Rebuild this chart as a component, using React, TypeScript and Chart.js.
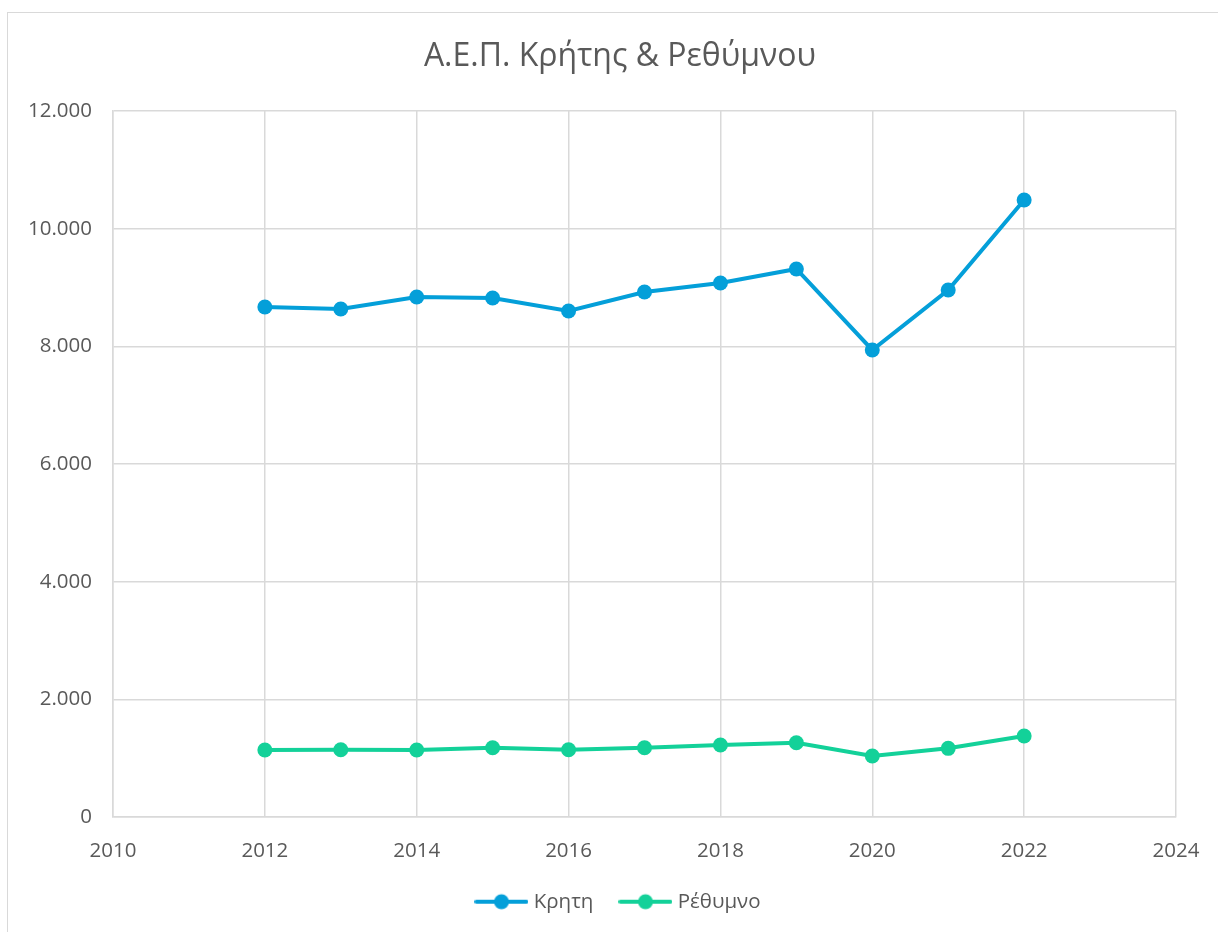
import React, { useEffect, useRef } from "react";
import { Chart, registerables } from "chart.js";

Chart.register(...registerables);

const years = [2012, 2013, 2014, 2015, 2016, 2017, 2018, 2019, 2020, 2021, 2022];
const kritiValues = [8669, 8635, 8839, 8822, 8601, 8924, 9077, 9315, 7938, 8958, 10488];
const rethymnoValues = [1139, 1142, 1140, 1178, 1142, 1178, 1224, 1263, 1037, 1167, 1377];
const seriesNames = ["Κρητη", "Ρέθυμνο"];
const seriesColors = ["#049FD9", "#13D199"];
const titleText = "Α.Ε.Π. Κρήτης & Ρεθύμνου";

const FONT = "'Open Sans', 'Noto Sans', sans-serif";
const TEXT = "#595959";
const GRID = "#d9d9d9";

function fmt(v: number): string {
  return String(Math.round(v)).replace(/\B(?=(\d{3})+(?!\d))/g, ".");
}

function legendIcon(color: string): HTMLCanvasElement {
  const c = document.createElement("canvas");
  c.width = 54;
  c.height = 18;
  const ctx = c.getContext("2d")!;
  ctx.strokeStyle = color;
  ctx.lineWidth = 4;
  ctx.lineCap = "round";
  ctx.beginPath();
  ctx.moveTo(2, 9);
  ctx.lineTo(52, 9);
  ctx.stroke();
  ctx.fillStyle = color;
  ctx.beginPath();
  ctx.arc(27, 9, 7.5, 0, Math.PI * 2);
  ctx.fill();
  return c;
}

export default function App() {
  const ref = useRef<HTMLCanvasElement>(null);
  useEffect(() => {
    document.body.style.overflow = "hidden";
    const icons = seriesColors.map(legendIcon);
    const chart = new Chart(ref.current!, {
      type: "scatter",
      data: {
        datasets: [
          {
            label: seriesNames[0],
            data: years.map((x, i) => ({ x, y: kritiValues[i] })),
            showLine: true,
            borderColor: seriesColors[0],
            backgroundColor: seriesColors[0],
            borderWidth: 4,
            pointRadius: 7.5,
            pointHoverRadius: 7.5,
            pointBorderWidth: 0,
          },
          {
            label: seriesNames[1],
            data: years.map((x, i) => ({ x, y: rethymnoValues[i] })),
            showLine: true,
            borderColor: seriesColors[1],
            backgroundColor: seriesColors[1],
            borderWidth: 4,
            pointRadius: 7.5,
            pointHoverRadius: 7.5,
            pointBorderWidth: 0,
          },
        ],
      },
      options: {
        animation: false,
        responsive: false,
        layout: { padding: { left: 0, right: -22, top: 0, bottom: 10 } },
        plugins: {
          title: {
            display: true,
            text: titleText,
            color: TEXT,
            font: { family: FONT, size: 32, weight: "normal" },
            padding: { top: 38, bottom: 34.6 },
          },
          legend: {
            position: "bottom",
            labels: {
              usePointStyle: true,
              pointStyleWidth: 44,
              boxHeight: 18,
              padding: 30,
              color: TEXT,
              font: { family: FONT, size: 20.5 },
              generateLabels: () =>
                seriesNames.map((n, i) => ({
                  text: n,
                  pointStyle: icons[i],
                  fillStyle: seriesColors[i],
                  strokeStyle: seriesColors[i],
                  lineWidth: 0,
                  datasetIndex: i,
                  fontColor: TEXT,
                })),
            },
          },
          tooltip: { enabled: false },
        },
        scales: {
          x: {
            type: "linear",
            min: 2010,
            max: 2024,
            ticks: {
              stepSize: 2,
              color: TEXT,
              font: { family: FONT, size: 20.5 },
              padding: 22,
              callback: (v: any) => String(v),
            },
            grid: { color: GRID, lineWidth: 1.5, drawTicks: false },
            border: { color: GRID, width: 1.5 },
            afterFit: (s: any) => {
              s.height = 44.5;
              s.paddingLeft = 0;
              s.paddingRight = 0;
            },
          },
          y: {
            type: "linear",
            min: 0,
            max: 12000,
            ticks: {
              stepSize: 2000,
              color: TEXT,
              font: { family: FONT, size: 20.5 },
              padding: 21,
              callback: (v: any) => fmt(Number(v)),
            },
            grid: { color: GRID, lineWidth: 1.5, drawTicks: false },
            border: { color: GRID, width: 1.5 },
            afterFit: (s: any) => {
              s.width = 113;
            },
          },
          spacer: {
            type: "linear",
            position: "right",
            display: true,
            ticks: { display: false },
            grid: { display: false, drawTicks: false },
            border: { display: false },
            afterFit: (s: any) => {
              s.width = 64;
            },
          },
        },
      },
    });
    return () => chart.destroy();
  }, []);

  return (
    <div style={{ position: "fixed", left: 0, top: 0, width: 1218, height: 932, background: "#fff" }}>
      <div
        style={{
          position: "absolute",
          left: 7,
          top: 12,
          right: 0,
          bottom: 0,
          borderLeft: "1px solid #d9d9d9",
          borderTop: "1px solid #d9d9d9",
        }}
      />
      <canvas ref={ref} width={1218} height={932} style={{ position: "absolute", left: 0, top: 0 }} />
    </div>
  );
}
